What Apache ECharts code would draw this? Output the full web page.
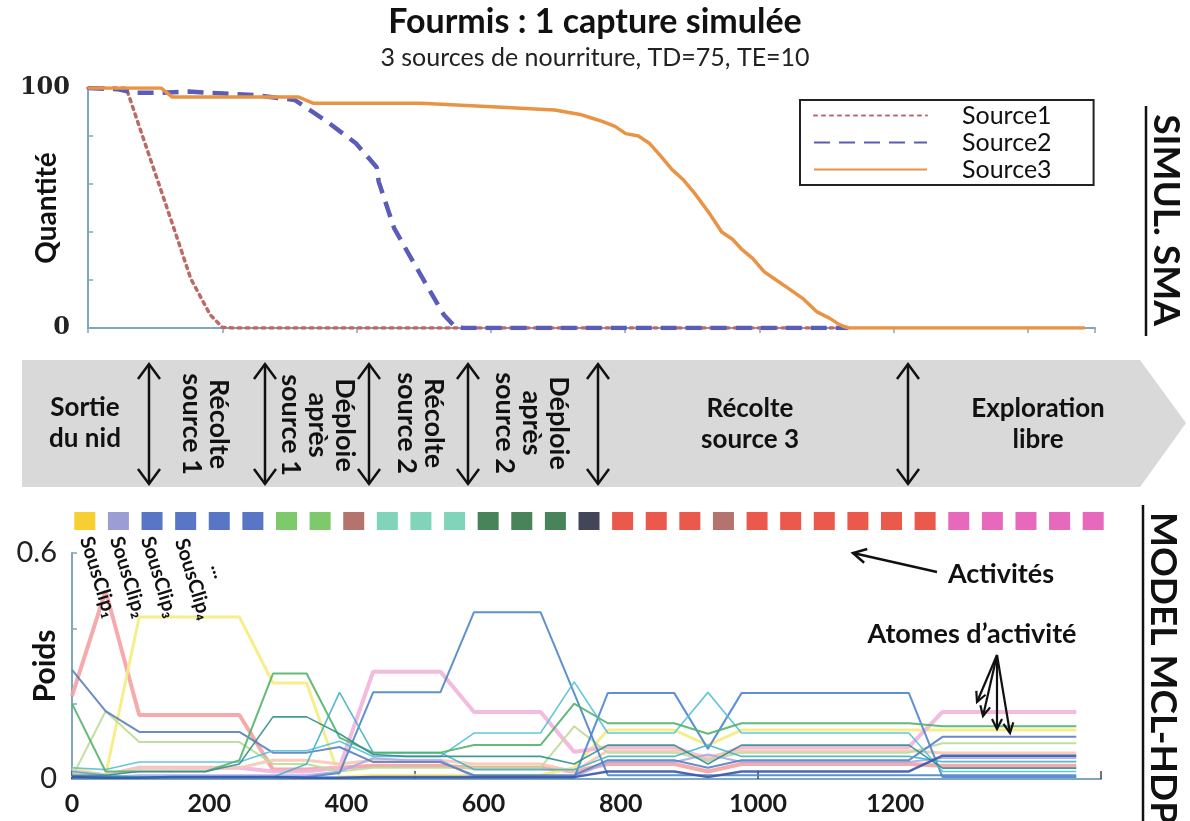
<!DOCTYPE html>
<html><head><meta charset="utf-8">
<script src="https://cdn.jsdelivr.net/npm/echarts@6/dist/echarts.min.js"></script>
<style>html,body{margin:0;padding:0;background:#fff}#c{width:1190px;height:821px}</style>
</head><body><div id="c"></div>
<script>
const FONT = 'Lato, "Open Sans", "DejaVu Sans", sans-serif';

// ---------- Top chart: simulated food quantity ----------
const sourceNames = ['Source1', 'Source2', 'Source3'];
const source1 = [[0,100],[20,100],[30,103],[40,100],[57,100],[80,81],[108,58],[131,39],[153,20.6],[182,5.5],[200,0.3],[215,0],[1132,0]];
const source2 = [[0,100],[45,99.5],[70,98],[110,98],[150,98.5],[250,97],[308,95],[353,86.6],[399,77],[430,67],[433,61],[456,41.6],[484,27.7],[502,19],[530,5.5],[547,0.4],[560,0],[1132,0]];
const source3 = [[0,100],[109,100],[125,96.3],[313,96.3],[336,93.6],[496,93.6],[609,92.1],[695,90.8],[733,89],[750,87.5],[767,86],[785,84],[801,81],[820,80],[836,77],[852,72],[870,66],[886,62],[904,56],[925,48],[944,40],[960,37],[973,33],[990,29],[1007,23.5],[1025,20],[1046,16],[1066,12],[1086,6.7],[1105,4],[1120,1.3],[1132,0],[1485,0]];
const topYLabels = [0, 100];

// ---------- Bottom chart: activity atom weights ----------
const frames = [0,49,98,146,195,244,293,342,390,439,488,537,586,634,683,732,781,830,878,927,976,1025,1074,1122,1171,1220,1269,1318,1366,1415,1464];
const wSalmon   = [0.22,0.50,0.17,0.17,0.17,0.17,0.025,0.025,0.03,0.035,0.035,0.035,0.03,0.03,0.03,0.02,0.04,0.04,0.04,0.02,0.04,0.04,0.04,0.04,0.04,0.04,0.035,0.035,0.035,0.035,0.035];
const wYellow   = [0.03,0.01,0.43,0.43,0.43,0.43,0.255,0.255,0.005,0.01,0.01,0.01,0.01,0.01,0.01,0.03,0.13,0.13,0.13,0.09,0.13,0.13,0.13,0.13,0.13,0.13,0.13,0.13,0.13,0.13,0.13];
const wSteel    = [0.29,0.18,0.125,0.125,0.125,0.125,0.07,0.07,0.085,0.045,0.045,0.045,0.01,0.01,0.01,0.01,0.05,0.05,0.05,0.03,0.05,0.05,0.05,0.05,0.05,0.05,0.112,0.112,0.112,0.112,0.112];
const wTallBlue = [0.005,0.005,0.005,0.005,0.005,0.005,0.005,0.005,0.016,0.23,0.23,0.23,0.443,0.443,0.443,0.228,0.01,0.01,0.01,0.01,0.01,0.01,0.01,0.01,0.01,0.01,0.01,0.01,0.01,0.01,0.01];
const wBlueB    = [0.003,0.003,0.003,0.003,0.003,0.003,0.003,0.003,0.003,0.003,0.003,0.003,0.003,0.003,0.003,0.003,0.228,0.228,0.228,0.08,0.228,0.228,0.228,0.228,0.228,0.228,0.005,0.005,0.005,0.005,0.005];
const wCyan     = [0.03,0.025,0.045,0.045,0.045,0.045,0.075,0.075,0.10,0.06,0.06,0.06,0.122,0.122,0.122,0.258,0.122,0.122,0.122,0.23,0.122,0.122,0.122,0.122,0.122,0.122,0.02,0.02,0.02,0.02,0.02];
const wTealPeak = [0.02,0.01,0.005,0.005,0.005,0.005,0.005,0.04,0.23,0.07,0.07,0.07,0.025,0.025,0.025,0.025,0.06,0.06,0.06,0.09,0.06,0.06,0.06,0.06,0.06,0.06,0.046,0.046,0.046,0.046,0.046];
const wGreen    = [0.20,0.02,0.02,0.02,0.02,0.05,0.28,0.28,0.11,0.07,0.07,0.07,0.09,0.09,0.09,0.20,0.148,0.148,0.148,0.12,0.148,0.148,0.148,0.148,0.148,0.148,0.14,0.14,0.14,0.14,0.14];
const wDarkTeal = [0.01,0.01,0.02,0.02,0.02,0.04,0.165,0.165,0.12,0.065,0.06,0.06,0.06,0.06,0.06,0.04,0.09,0.09,0.09,0.04,0.09,0.09,0.09,0.09,0.09,0.09,0.029,0.029,0.029,0.029,0.029];
const wLightGrn = [0.005,0.18,0.098,0.098,0.098,0.098,0.04,0.04,0.02,0.03,0.03,0.03,0.03,0.03,0.03,0.14,0.07,0.07,0.07,0.05,0.07,0.07,0.07,0.07,0.07,0.07,0.095,0.095,0.095,0.095,0.095];
const wLavender = [0.005,0.005,0.01,0.01,0.01,0.01,0.01,0.01,0.02,0.055,0.05,0.05,0.005,0.005,0.005,0.005,0.045,0.045,0.045,0.065,0.045,0.045,0.045,0.045,0.045,0.045,0.056,0.056,0.056,0.056,0.056];
const wPeach    = [0.01,0.01,0.03,0.03,0.03,0.03,0.05,0.05,0.04,0.05,0.05,0.05,0.04,0.04,0.04,0.02,0.075,0.075,0.075,0.06,0.075,0.075,0.075,0.075,0.075,0.075,0.069,0.069,0.069,0.069,0.069];
const wPink     = [0.02,0.01,0.03,0.03,0.03,0.03,0.02,0.02,0.03,0.285,0.285,0.285,0.178,0.178,0.178,0.072,0.085,0.085,0.085,0.05,0.085,0.085,0.085,0.085,0.085,0.085,0.178,0.178,0.178,0.178,0.178];
const wNavy     = [0.005,0.003,0.003,0.005,0.005,0.005,0.005,0.003,0.003,0.005,0.005,0.005,0.005,0.005,0.005,0.005,0.02,0.02,0.02,0.005,0.02,0.02,0.02,0.02,0.02,0.02,0.062,0.062,0.062,0.062,0.062];
const bottomXLabels = [0, 200, 400, 600, 800, 1000, 1200];
const bottomYLabels = [0, 0.6];

// ---------- Activities (one square per sub-clip) ----------
const activities = [0,1,2,2,2,2,3,3,4,5,5,5,6,6,6,7,8,8,8,4,8,8,8,8,8,8,9,9,9,9,9];
const clipLabels = ['SousClip₁', 'SousClip₂', 'SousClip₃', 'SousClip₄', '...'];

// ---------- Phases ----------
const phasesFlat = ['Sortie\ndu nid', 'Récolte\nsource 3', 'Exploration\nlibre'];
const phasesVert = ['Récolte\nsource 1', 'Déploie\naprès\nsource 1', 'Récolte\nsource 2', 'Déploie\naprès\nsource 2'];

// ---------- styles ----------
const actColors = ['#f4c300','#8585cc','#2f52b8','#5dbb46','#a2504a','#62c9a9','#1b6431','#141630','#e5301f','#e043ac'];
const atomStyles = [
  [wSalmon,'#f4a2a2',4], [wYellow,'#f5ec7e',3], [wPink,'#f2b4da',4], [wPeach,'#f7c9b2',3],
  [wLightGrn,'#bcdc96',2], [wLavender,'#aaaaea',2], [wSteel,'#5b7fbf',2], [wTallBlue,'#4d86c8',2],
  [wBlueB,'#4a84d4',2], [wCyan,'#52c0d8',1.6], [wTealPeak,'#40b4c6',1.6], [wGreen,'#54b26a',2],
  [wDarkTeal,'#2f8f8f',1.6], [wNavy,'#3858a8',2.5]
];
const AX = '#7ea6c0';

const zip = (xs, ys) => ys.map((v, i) => [xs[i], v]);

const bottomSeries = atomStyles.map(([vals, col, w], i) => ({
  type: 'line', name: 'atome' + (i + 1), xAxisIndex: 1, yAxisIndex: 1,
  data: zip(frames, vals), symbol: 'none', silent: true, color: col,
  lineStyle: { color: col, width: w, opacity: 0.9 }
}));

// ---------- graphic helpers ----------
const g = [];
const K = '#111';
function seg(x1, y1, x2, y2, w) {
  g.push({ type: 'line', shape: { x1, y1, x2, y2 }, style: { stroke: K, lineWidth: w || 2.5 }, z: 20 });
}
function head(x1, y1, x2, y2, len, wid, lw) {
  const a = Math.atan2(y2 - y1, x2 - x1), c = Math.cos(a), s = Math.sin(a);
  g.push({ type: 'polyline', shape: { points: [
    [x2 - len * c + wid * s, y2 - len * s - wid * c], [x2, y2], [x2 - len * c - wid * s, y2 - len * s + wid * c]
  ] }, style: { stroke: K, lineWidth: lw || 2.5, fill: null, lineJoin: 'miter' }, z: 20 });
}
function dblArrow(x, y1, y2) {
  seg(x, y1, x, y2, 2.5);
  head(x, y2, x, y1, 15, 11);
  head(x, y1, x, y2, 15, 11);
}
function txt(text, x, y, size, opts) {
  g.push(Object.assign({ type: 'text', x, y, z: 21, style: {
    text, x: 0, y: 0, fontSize: size, fontWeight: 'bold', fontFamily: FONT, fill: K,
    textAlign: 'center', textVerticalAlign: 'middle', lineHeight: (opts && opts.lh) || Math.round(size * 1.2)
  } }, opts && opts.el ? opts.el : {}));
}

// phase band
g.push({ type: 'polygon', shape: { points: [[22,360],[1140,360],[1186,423],[1140,487],[22,487]] },
  style: { fill: '#d9d9d9' }, z: 1 });
[149, 265, 369, 468, 598, 908].forEach(x => dblArrow(x, 364, 484));
txt(phasesFlat[0], 85, 423, 26, { lh: 31 });
txt(phasesFlat[1], 750, 424, 26, { lh: 31 });
txt(phasesFlat[2], 1038, 424, 26, { lh: 31 });
const vertPos = [[205, 424], [318, 425], [420, 423], [532, 423]];
phasesVert.forEach((t, i) => txt(t, vertPos[i][0], vertPos[i][1], 27, { lh: 27, el: { rotation: -Math.PI / 2 } }));

// sous-clip labels
const clipPos = [[86, 537], [116, 537], [147, 537], [181, 539], [217, 564]];
clipLabels.forEach((t, i) => g.push({ type: 'text', x: clipPos[i][0], y: clipPos[i][1], rotation: -73 * Math.PI / 180, z: 21,
  style: { text: t, x: 0, y: 0, fontSize: 20, fontWeight: 'bold', fontFamily: FONT, fill: K, textAlign: 'left', textVerticalAlign: 'middle' } }));

// annotations
txt('Activités', 1001, 574, 27);
seg(937, 572, 853, 553, 2.5); head(937, 572, 853, 553, 13, 7, 2.5);
txt('Atomes d’activité', 972, 634, 27);
[[977, 702], [983, 716], [997, 729], [1010, 733]].forEach(([x, y]) => { seg(997, 655, x, y, 2.2); head(997, 655, x, y, 10, 5, 2.2); });

// right side section titles
txt('SIMUL. SMA', 1166, 220, 37, { el: { rotation: -Math.PI / 2 } });
seg(1146, 106, 1146, 336, 2.5);
txt('MODEL MCL-HDP', 1163, 668, 37, { el: { rotation: -Math.PI / 2 } });
seg(1143, 505, 1143, 821, 2.5);

const option = {
  backgroundColor: '#ffffff',
  animation: false,
  title: {
    text: 'Fourmis : 1 capture simulée',
    subtext: '3 sources de nourriture, TD=75, TE=10',
    left: 'center', top: 0, itemGap: 6,
    textStyle: { fontSize: 34, fontWeight: 'bold', fontFamily: FONT, color: '#111' },
    subtextStyle: { fontSize: 25, fontFamily: FONT, color: '#222' }
  },
  legend: {
    data: sourceNames, orient: 'vertical', left: 800, top: 100,
    itemWidth: 113, itemHeight: 14, itemGap: 2,
    itemStyle: { opacity: 0 },
    padding: [3, 42, 3, 13], borderColor: '#222', borderWidth: 2,
    textStyle: { fontSize: 25, fontFamily: FONT, color: '#111', lineHeight: 25, padding: [0, 0, 0, 30] }
  },
  grid: [
    { left: 88, top: 88, width: 1007, height: 240, outerBoundsMode: 'none', containLabel: false },
    { left: 72, top: 553, width: 1029, height: 226, outerBoundsMode: 'none', containLabel: false },
    { left: 68, top: 505, width: 1042, height: 32, outerBoundsMode: 'none', containLabel: false }
  ],
  xAxis: [
    { gridIndex: 0, type: 'value', min: 0, max: 1500, interval: 200, position: 'bottom',
      axisLine: { lineStyle: { color: AX, width: 2 } }, axisTick: { show: true, length: 5, lineStyle: { color: AX, width: 1.5 } },
      axisLabel: { show: false }, splitLine: { show: false } },
    { gridIndex: 1, type: 'value', min: 0, max: 1500, interval: 500, position: 'bottom',
      axisLine: { lineStyle: { color: AX, width: 2 } }, axisTick: { show: true, inside: true, length: 8, lineStyle: { color: '#445', width: 1.5 } },
      axisLabel: { show: false }, splitLine: { show: false } },
    { gridIndex: 1, type: 'value', min: 0, max: 1500, interval: 200, position: 'bottom',
      axisLine: { show: false }, axisTick: { show: false }, splitLine: { show: false },
      axisLabel: { margin: 12, fontSize: 25, fontWeight: 'bold', fontFamily: FONT, color: '#1a1a1a',
        formatter: v => bottomXLabels.indexOf(v) >= 0 ? String(v) : '' } },
    { gridIndex: 2, type: 'value', min: -0.5, max: 30.5, show: false }
  ],
  yAxis: [
    { gridIndex: 0, type: 'value', min: 0, max: 100, interval: 20,
      name: 'Quantité', nameLocation: 'middle', nameRotate: 90, nameGap: 27, nameMoveOverlap: false,
      nameTextStyle: { fontSize: 28, fontWeight: 'bold', fontFamily: FONT, color: '#111' },
      axisLine: { show: true, lineStyle: { color: AX, width: 2 } }, axisTick: { show: true, inside: true, length: 5, lineStyle: { color: AX, width: 1.5 } },
      axisLabel: { margin: 18, fontSize: 24, fontWeight: 'bold', fontFamily: '"DejaVu Serif", serif', color: '#222',
        formatter: v => topYLabels.indexOf(v) >= 0 ? String(v) : '' },
      splitLine: { show: false } },
    { gridIndex: 1, type: 'value', min: 0, max: 0.6, interval: 0.2,
      name: 'Poids', nameLocation: 'middle', nameRotate: 90, nameGap: 12, nameMoveOverlap: false,
      nameTextStyle: { fontSize: 30, fontWeight: 'bold', fontFamily: FONT, color: '#111' },
      axisLine: { show: true, lineStyle: { color: AX, width: 2 } }, axisTick: { show: true, inside: true, length: 5, lineStyle: { color: AX, width: 1.5 } },
      axisLabel: { margin: 15, fontSize: 29, fontFamily: FONT, color: '#222',
        formatter: v => { const r = Math.round(v * 10) / 10; return bottomYLabels.indexOf(r) >= 0 ? String(r) : ''; } },
      splitLine: { show: false } },
    { gridIndex: 2, type: 'value', min: -1, max: 1, show: false }
  ],
  series: [
    { type: 'line', name: sourceNames[0], xAxisIndex: 0, yAxisIndex: 0, data: source1, symbol: 'none', color: '#bb6a66',
      lineStyle: { color: '#bb6a66', width: 3.5, type: [3, 5], cap: 'round' } },
    { type: 'line', name: sourceNames[1], xAxisIndex: 0, yAxisIndex: 0, data: source2, symbol: 'none', color: '#5a5cba',
      lineStyle: { color: '#5a5cba', width: 4.5, type: [16, 9] } },
    { type: 'line', name: sourceNames[2], xAxisIndex: 0, yAxisIndex: 0, data: source3, symbol: 'none', color: '#e99444',
      lineStyle: { color: '#e99444', width: 3.5 } },
    ...bottomSeries,
    { type: 'scatter', name: 'activités', xAxisIndex: 3, yAxisIndex: 2, symbol: 'rect', symbolSize: [21, 18], silent: true,
      data: activities.map((a, i) => ({ value: [i, 0], itemStyle: { color: actColors[a] } })) }
  ],
  graphic: g
};
const chart = echarts.init(document.getElementById('c'));
chart.setOption(option);
</script></body></html>
